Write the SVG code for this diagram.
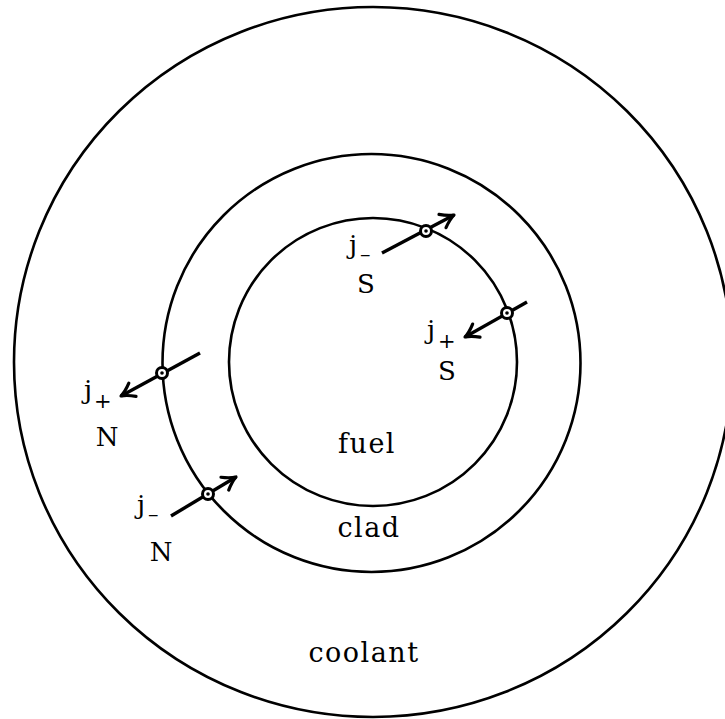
<svg xmlns="http://www.w3.org/2000/svg" width="725" height="719" viewBox="0 0 725 719">
<style>
.ring{fill:none;stroke:#000;stroke-width:2.6}
.lbl{font-family:"DejaVu Serif","Liberation Serif",serif;font-size:27px;fill:#000;letter-spacing:1.5px}
.j{font-family:"DejaVu Serif","Liberation Serif",serif;font-size:26px;fill:#000}
.sub{font-size:21px}
.arr{fill:none;stroke:#000;stroke-width:3.4;marker-end:url(#ah)}
.pt{fill:#fff;stroke:#000;stroke-width:3}
</style>
<defs>
<marker id="ah" markerUnits="userSpaceOnUse" markerWidth="30" markerHeight="30" viewBox="-15 -15 30 30" refX="0" refY="0" orient="auto" overflow="visible">
<path d="M-13,-7.5 Q-6,-2 0,0 Q-6,2 -13,7.5" fill="none" stroke="#000" stroke-width="3.2" stroke-linecap="round" stroke-linejoin="round"/>
</marker>
</defs>
<rect width="725" height="719" fill="#fff"/>
<g id="coolant">
<ellipse class="ring" cx="373" cy="362" rx="359" ry="355" stroke-width="3"/>
<text class="lbl" x="364" y="662" text-anchor="middle">coolant</text>
</g>
<g id="clad">
<circle class="ring" cx="371.5" cy="363" r="209"/>
<text class="lbl" x="369" y="537" text-anchor="middle">clad</text>
</g>
<g id="fuel">
<circle class="ring" cx="373" cy="362" r="144"/>
<text class="lbl" x="367" y="453" text-anchor="middle">fuel</text>
</g>
<g id="connectors">
<line class="arr" x1="382" y1="253" x2="454" y2="215"/>
<line class="arr" x1="527" y1="302" x2="465" y2="337"/>
<line class="arr" x1="200" y1="353" x2="121" y2="396"/>
<line class="arr" x1="171" y1="516" x2="236" y2="477"/>
<circle class="pt" cx="426" cy="231" r="5.5"/>
<circle cx="426" cy="231" r="1.8"/>
<circle class="pt" cx="507" cy="313" r="5.5"/>
<circle cx="507" cy="313" r="1.8"/>
<circle class="pt" cx="162" cy="373" r="5.5"/>
<circle cx="162" cy="373" r="1.8"/>
<circle class="pt" cx="208" cy="494" r="5.5"/>
<circle cx="208" cy="494" r="1.8"/>
</g>
<g id="labels">
<text class="j" x="349" y="254">j<tspan class="sub" dx="3" dy="7">–</tspan></text>
<text class="j" x="366" y="293" text-anchor="middle">S</text>
<text class="j" x="427" y="339">j<tspan class="sub" dx="3" dy="9">+</tspan></text>
<text class="j" x="447" y="380" text-anchor="middle">S</text>
<text class="j" x="84" y="399">j<tspan class="sub" dx="2" dy="9">+</tspan></text>
<text class="j" x="107" y="446" text-anchor="middle">N</text>
<text class="j" x="137" y="514">j<tspan class="sub" dx="3" dy="7">–</tspan></text>
<text class="j" x="161" y="561" text-anchor="middle">N</text>
</g>
</svg>
